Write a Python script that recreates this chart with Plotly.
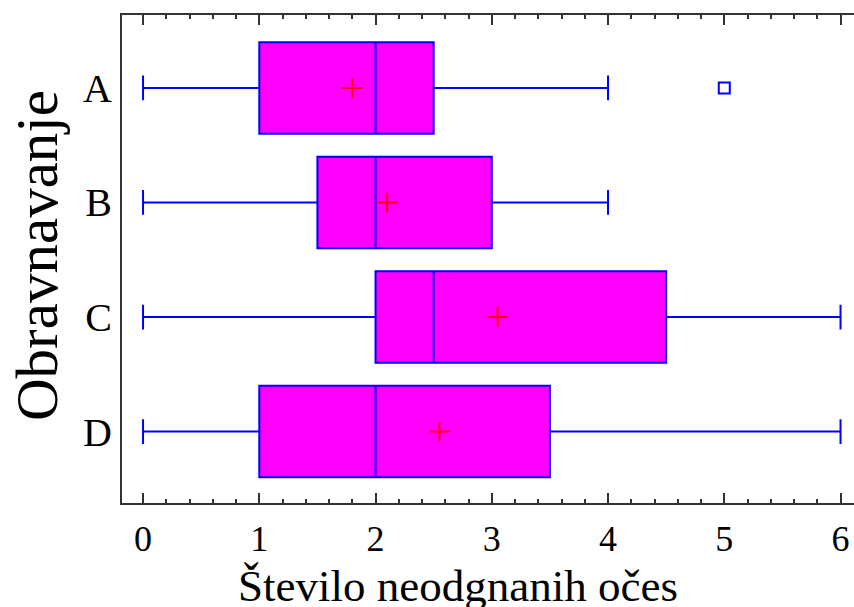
import plotly.graph_objects as go

categories = ["A", "B", "C", "D"]
lower_whisker = [0, 0, 0, 0]
q1_values = [1.0, 1.5, 2.0, 1.0]
median_values = [2.0, 2.0, 2.5, 2.0]
q3_values = [2.5, 3.0, 4.5, 3.5]
upper_whisker = [4, 4, 6, 6]
mean_values = [1.8, 2.1, 3.05, 2.55]
outlier_cats = ["A"]
outlier_values = [5.0]
x_ticks = [0, 1, 2, 3, 4, 5, 6]

W, H = 854, 607
ml, mr, mt, mb = 122, 0, 15, 104
pw, ph = W - ml - mr, H - mt - mb

def px_x(x):
    return (x - ml) / pw

def px_y(y):
    return (H - mb - y) / ph

fig = go.Figure()
fig.add_trace(go.Box(
    y=categories, orientation="h",
    q1=q1_values, median=median_values, q3=q3_values,
    lowerfence=lower_whisker, upperfence=upper_whisker,
    boxpoints=False, width=0.8, whiskerwidth=0.27,
    fillcolor="#FF00FF", line=dict(color="#0000FF", width=2),
    showlegend=False, hoverinfo="skip",
))
fig.add_trace(go.Scatter(
    x=mean_values, y=categories, mode="markers",
    marker=dict(symbol="cross-thin", size=14, line=dict(color="#FF0000", width=2), color="#FF0000"),
    showlegend=False,
))
fig.add_trace(go.Scatter(
    x=outlier_values, y=outlier_cats, mode="markers",
    marker=dict(symbol="square-open", size=11, line=dict(color="#0000FF", width=2), color="#0000FF"),
    showlegend=False,
))

fig.update_layout(
    width=W, height=H,
    margin=dict(l=ml, r=mr, t=mt, b=mb, pad=0),
    plot_bgcolor="white", paper_bgcolor="white",
    font=dict(family="Liberation Serif", color="black"),
    xaxis=dict(
        range=[-0.181, 6.116], tickvals=x_ticks, ticktext=[str(t) for t in x_ticks],
        showline=True, linecolor="#333333", linewidth=2, mirror="ticks",
        ticks="inside", ticklen=10, tickwidth=2, tickcolor="#333333",
        minor=dict(dtick=0.2, ticks="inside", ticklen=4, tickwidth=2, tickcolor="#333333"),
        showgrid=False, zeroline=False,
        tickfont=dict(size=36, family="Liberation Serif"),
        ticklabelstandoff=3,
    ),
    yaxis=dict(
        type="category", categoryorder="array", categoryarray=categories,
        range=[3.624, -0.637],
        showline=True, linecolor="#333333", linewidth=2, mirror=False,
        ticks="", showgrid=False, zeroline=False,
        tickfont=dict(size=40, family="Liberation Serif"),
        ticklabelstandoff=0,
    ),
    annotations=[
        dict(text="Obravnavanje", xref="paper", yref="paper",
             x=px_x(37), y=px_y(256), textangle=-90, showarrow=False,
             xanchor="center", yanchor="middle",
             font=dict(size=59, family="Liberation Serif", color="black")),
        dict(text="Število neodgnanih očes", xref="paper", yref="paper",
             x=px_x(458), y=px_y(586), showarrow=False,
             xanchor="center", yanchor="middle",
             font=dict(size=45, family="Liberation Serif", color="black")),
    ],
)

fig.write_html("out.html")
